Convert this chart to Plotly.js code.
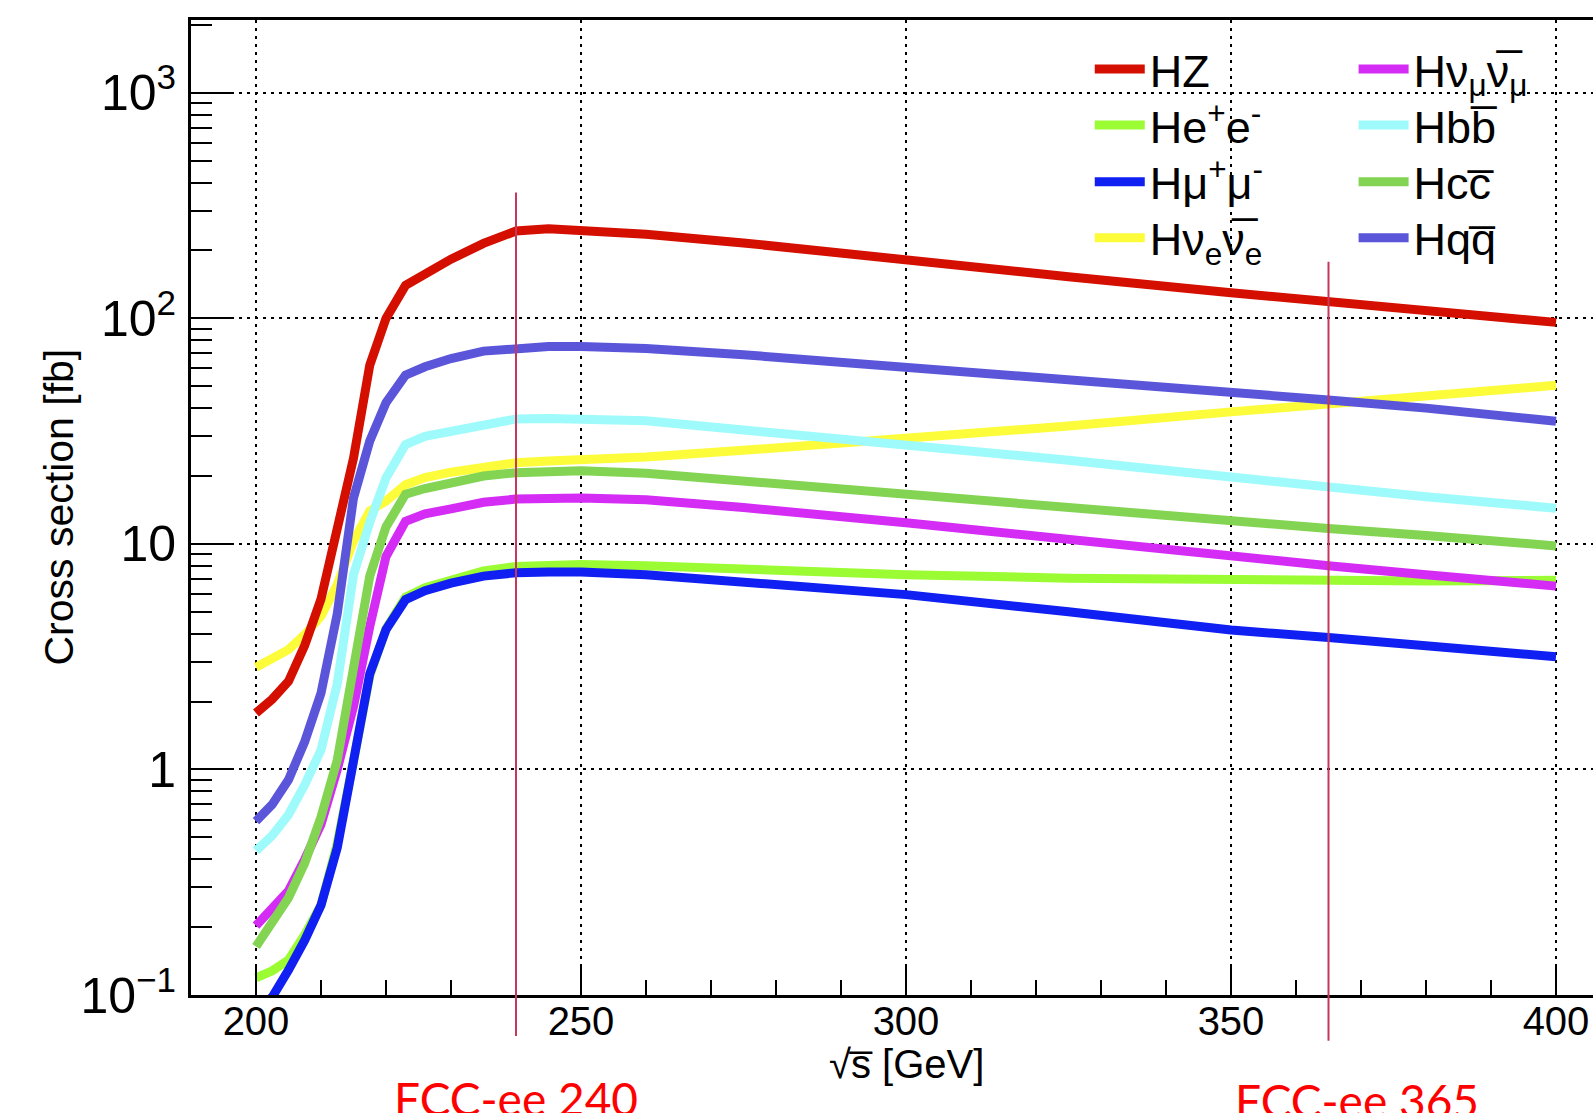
<!DOCTYPE html>
<html>
<head>
<meta charset="utf-8">
<script src="https://cdn.plot.ly/plotly-3.0.1.min.js"></script>
<style>
html,body{margin:0;padding:0;overflow:hidden;background:#ffffff;}
#chart{width:1650px;height:1113px;}
</style>
</head>
<body>
<div id="chart"></div>
<script>
// centre-of-mass energy points (GeV)
const sqrtS = [200, 202.5, 205, 207.5, 210, 212.5, 215, 217.5, 220, 223, 226, 230, 235, 240, 245, 250, 260, 275, 300, 325, 350, 365, 380, 400];

// cross sections (fb)
const xsHZ      = [1.78, 2.05, 2.46, 3.55, 5.7, 12, 24, 62, 100, 140, 158, 183, 215, 244, 250, 246, 236, 216, 180, 153, 130, 119, 109, 96];
const xsHee     = [0.119, 0.128, 0.143, 0.185, 0.25, 0.47, 1.09, 2.6, 4.2, 5.8, 6.4, 6.87, 7.6, 7.95, 8.1, 8.1, 8.0, 7.7, 7.3, 7.05, 6.9, 6.85, 6.85, 6.9];
const xsHmumu   = [0.085, 0.098, 0.129, 0.175, 0.25, 0.45, 1.09, 2.65, 4.17, 5.66, 6.2, 6.7, 7.2, 7.45, 7.5, 7.5, 7.3, 6.8, 5.96, 5.0, 4.15, 3.85, 3.55, 3.16];
const xsHnuenue = [2.84, 3.07, 3.4, 3.96, 4.78, 6.6, 10.3, 14, 15.5, 18.3, 19.7, 20.8, 22, 22.9, 23.3, 23.6, 24.3, 26, 29.1, 33.3, 38.5, 41.9, 45, 50.5];
const xsHnumnum = [0.203, 0.24, 0.29, 0.4, 0.57, 1.0, 1.9, 4.3, 8.8, 12.6, 13.6, 14.3, 15.3, 15.8, 16, 16, 15.7, 14.5, 12.4, 10.4, 8.8, 8.0, 7.3, 6.5];
const xsHbb     = [0.436, 0.51, 0.63, 0.855, 1.22, 2.4, 7.3, 12.5, 19.6, 27.6, 30, 31.6, 34.1, 35.8, 36, 36, 35.2, 32, 27.6, 23.5, 19.8, 17.8, 16.2, 14.4];
const xsHcc     = [0.164, 0.208, 0.27, 0.385, 0.615, 1.1, 3.0, 7.2, 11.9, 16.6, 17.6, 18.5, 20, 20.7, 21, 21.1, 20.6, 19, 16.4, 14.3, 12.6, 11.7, 10.9, 9.8];
const xsHqq     = [0.59, 0.7, 0.9, 1.33, 2.18, 4.9, 16, 28.6, 42.3, 56, 61, 66.4, 71.6, 74, 75, 75, 73.5, 69, 61, 53.5, 47, 43.5, 40, 35];

// labels
const seriesNames = ["HZ", "He<sup>+</sup>e<sup>-</sup>", "Hμ<sup>+</sup>μ<sup>-</sup>", "Hν<sub>e</sub>ν\u0305<sub>e</sub>",
                     "Hν<sub>μ</sub>ν\u0305<sub>μ</sub>", "Hbb\u0305", "Hcc\u0305", "Hqq\u0305"];
const xTitle = "√s\u0305 [GeV]";
const yTitle = "Cross section [fb]";
const fccEnergies = [240, 365];
const fccLabels = ["FCC-ee 240", "FCC-ee 365"];

const colors = {
  HZ: "#d40f00", Hee: "#9cfc33", Hmumu: "#1020f2", Hnuenue: "#fcfc3a",
  Hnumnum: "#d42cf5", Hbb: "#9ffbfb", Hcc: "#82d452", Hqq: "#5b56d9"
};

const FONT = "Liberation Sans, Arial, Helvetica, sans-serif";
const LW = 9;

function tr(y, name, color, legend) {
  return {
    x: sqrtS, y: y, name: name, type: "scatter", mode: "lines",
    line: {color: color, width: LW, shape: "linear"},
    legend: legend, hoverinfo: "skip"
  };
}

// drawing order (later on top); each entry has its own legend box (2 columns x 4 rows)
const data = [
  tr(xsHnuenue, seriesNames[3], colors.Hnuenue, "legend4"),
  tr(xsHZ, seriesNames[0], colors.HZ, "legend"),
  tr(xsHee, seriesNames[1], colors.Hee, "legend2"),
  tr(xsHmumu, seriesNames[2], colors.Hmumu, "legend3"),
  tr(xsHnumnum, seriesNames[4], colors.Hnumnum, "legend5"),
  tr(xsHbb, seriesNames[5], colors.Hbb, "legend6"),
  tr(xsHcc, seriesNames[6], colors.Hcc, "legend7"),
  tr(xsHqq, seriesNames[7], colors.Hqq, "legend8")
];

function leg(x, y) {
  return {
    x: x, y: y, xref: "paper", yref: "paper", xanchor: "left", yanchor: "top",
    bgcolor: "rgba(0,0,0,0)", borderwidth: 0,
    font: {family: FONT, size: 45, color: "#000"},
    itemwidth: 50, tracegroupgap: 0
  };
}
const colX = [0.6285, 0.813];
const rowY = [0.9864, 0.929, 0.8707, 0.8133];

const fccTops = [0.823, 0.752];
const shapes = fccEnergies.map((e, i) => ({
  type: "line", xref: "x", yref: "paper", x0: e, x1: e,
  y0: (i === 0 ? -0.042 : -0.047), y1: fccTops[i],
  line: {color: "#c8375a", width: 2}, layer: "above"
}));

const annotations = fccEnergies.map((e, i) => ({
  x: e, xref: "x", y: -0.084, yref: "paper", xanchor: "center", yanchor: "top",
  xshift: (i === 0 ? 0 : 28), yshift: (i === 0 ? 8 : 6),
  text: fccLabels[i], showarrow: false,
  font: {family: "Lato, Open Sans, sans-serif", size: 46, color: "#ff0000"}
}));
annotations.push({
  text: yTitle, textangle: -90, showarrow: false,
  xref: "paper", yref: "paper", x: -0.093, y: 0.5, xanchor: "center", yanchor: "middle",
  font: {family: FONT, size: 41, color: "#000"}
});
annotations.push({
  text: xTitle, showarrow: false,
  xref: "paper", yref: "paper", x: 0.5, y: -0.0705, xanchor: "center", yanchor: "middle",
  font: {family: FONT, size: 40, color: "#000"}
});

const layout = {
  width: 1650, height: 1113,
  margin: {l: 191, r: 29, t: 20, b: 118},
  paper_bgcolor: "#ffffff", plot_bgcolor: "#ffffff",
  showlegend: true,
  legend:  leg(colX[0], rowY[0]),
  legend2: leg(colX[0], rowY[1]),
  legend3: leg(colX[0], rowY[2]),
  legend4: leg(colX[0], rowY[3]),
  legend5: leg(colX[1], rowY[0]),
  legend6: leg(colX[1], rowY[1]),
  legend7: leg(colX[1], rowY[2]),
  legend8: leg(colX[1], rowY[3]),
  xaxis: {
    range: [190, 410], tickmode: "linear", tick0: 200, dtick: 50,
    ticks: "inside", ticklen: 28, tickwidth: 2, tickcolor: "#000",
    showline: true, linewidth: 3, linecolor: "#000", mirror: true,
    showgrid: true, gridcolor: "#000", gridwidth: 2, griddash: "3px,5px",
    zeroline: false,
    minor: {tick0: 200, dtick: 10, ticks: "inside", ticklen: 15, tickwidth: 2, tickcolor: "#000", showgrid: false},
    tickfont: {family: FONT, size: 40, color: "#000"},
    ticklabelstandoff: -11
  },
  yaxis: {
    type: "log", range: [-1, 3.323], tickmode: "linear", tick0: 0, dtick: 1,
    exponentformat: "power",
    ticks: "inside", ticklen: 42, tickwidth: 2, tickcolor: "#000",
    showline: true, linewidth: 3, linecolor: "#000", mirror: true,
    showgrid: true, gridcolor: "#000", gridwidth: 2, griddash: "3px,5px",
    zeroline: false,
    minor: {dtick: "D1", ticks: "inside", ticklen: 21, tickwidth: 2, tickcolor: "#000", showgrid: false},
    tickfont: {family: FONT, size: 40, color: "#000"},
    ticklabelstandoff: 4
  },
  shapes: shapes,
  annotations: annotations
};

Plotly.newPlot("chart", data, layout, {displayModeBar: false, staticPlot: true});
</script>
</body>
</html>
